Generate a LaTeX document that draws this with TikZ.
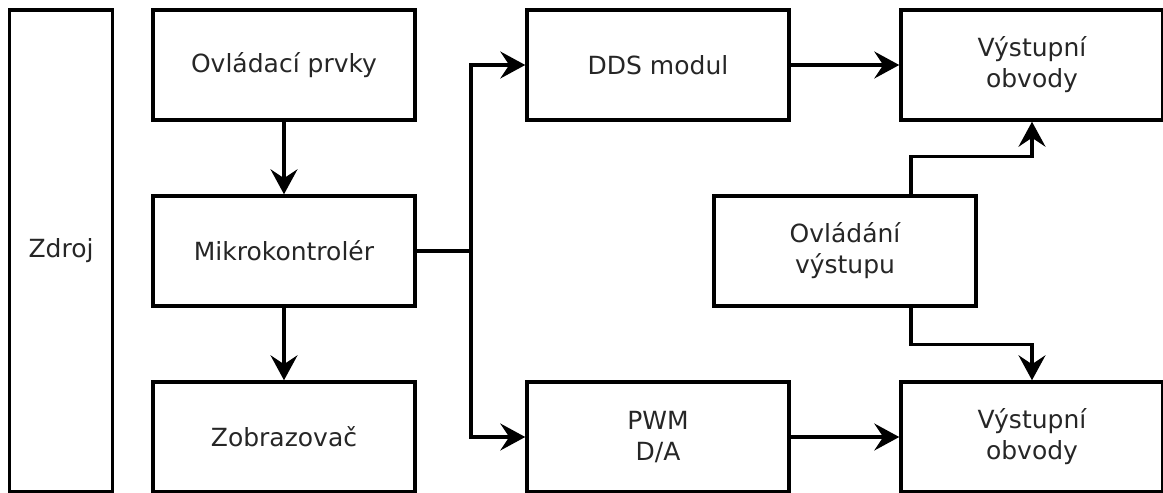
\documentclass[tikz,border=0pt]{standalone}
\usepackage{fontspec}
\setmainfont{DejaVu Sans}
\usetikzlibrary{arrows.meta}
\tikzstyle{block} = [rectangle, minimum width=262pt, minimum height=110pt, text centered, align=center, draw=black, line width=3.5pt, text=black!85, font=\fontsize{25}{31}\selectfont]
\tikzstyle{arrow} = [line width=3.2pt, -{Stealth[length=25pt, width=27pt, inset=9pt]}]
\tikzstyle{wire} = [line width=3.2pt]

\begin{document}
\begin{tikzpicture}[node distance=186pt]
\useasboundingbox (0,0) rectangle (1163pt,-493pt);
\node(zdroj)[block, minimum width=103pt, minimum height=482pt] at (61pt,-251pt){Zdroj};
\node(ovl)[block] at (284pt,-65pt){Ovládací prvky};
\node(mcu)[block, below of=ovl]{Mikrokontrolér};
\draw[arrow] (ovl) -- (mcu);
\node(disp)[block, below of=mcu]{Zobrazovač};
\draw[arrow] (mcu) -- (disp);
\node(dds)[block] at (658pt,-65pt){DDS modul};
\node(pwm)[block, below of=dds, yshift=-186pt]{PWM\\D/A};
\coordinate(split) at (471pt,-251pt);
\draw[wire] (mcu.east) -- (split);
\draw[arrow] (split) |- (dds.west);
\draw[arrow] (split) |- (pwm.west);
\node(out1)[block] at (1032pt,-65pt){Výstupní\\obvody};
\node(out2)[block, below of=out1, yshift=-186pt]{Výstupní\\obvody};
\draw[arrow] (dds) -- (out1);
\draw[arrow] (pwm) -- (out2);
\node(ctl)[block] at (845pt,-251pt){Ovládání\\výstupu};
\draw[arrow] ([xshift=66pt]ctl.north) -- ++(0,38pt) -| (out1.south);
\draw[arrow] ([xshift=66pt]ctl.south) -- ++(0,-37pt) -| (out2.north);
\end{tikzpicture}
\end{document}
